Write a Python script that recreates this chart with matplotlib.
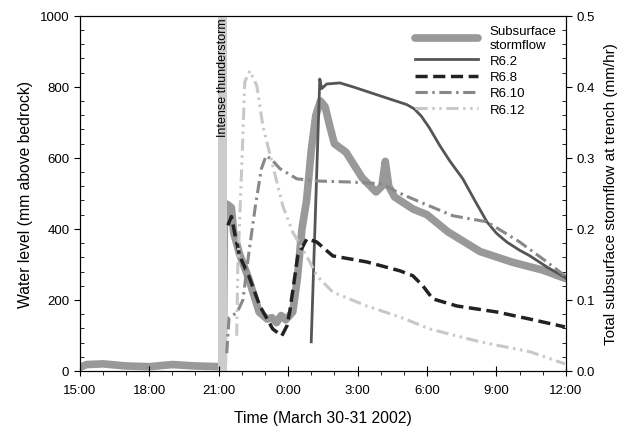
import matplotlib
matplotlib.use("Agg")
import matplotlib.pyplot as plt
from matplotlib.ticker import MultipleLocator, FixedLocator

plt.rcParams['font.family'] = ['Liberation Sans', 'DejaVu Sans']

# hours since 15:00 on March 30
tick_hours = [0, 3, 6, 9, 12, 15, 18, 21]
tick_labels = ["15:00", "18:00", "21:00", "0:00", "3:00", "6:00", "9:00", "12:00"]

# Subsurface stormflow (mm/hr, right axis)
ss_h = [0, 0.3, 1.0, 2.0, 3.0, 4.0, 5.0, 6.1, 6.2, 6.25, 6.35, 6.55, 6.65, 6.9, 7.3,
        7.75, 8.1, 8.3, 8.5, 8.7, 8.9, 9.2, 9.4, 9.6, 9.8, 10.0, 10.2, 10.4, 10.6, 10.8,
        11.0, 11.5, 12.2, 12.8, 13.05, 13.2, 13.35, 13.6, 14.4, 15.0, 15.9, 17.3, 18.7,
        20.0, 21.0]
ss_flow = [0.005, 0.009, 0.01, 0.007, 0.006, 0.009, 0.007, 0.006, 0.009, 0.22, 0.235,
           0.23, 0.195, 0.165, 0.13, 0.083, 0.073, 0.075, 0.068, 0.078, 0.072, 0.083,
           0.13, 0.2, 0.24, 0.31, 0.36, 0.38, 0.372, 0.345, 0.32, 0.308, 0.272, 0.252,
           0.26, 0.295, 0.26, 0.245, 0.228, 0.22, 0.196, 0.168, 0.153, 0.142, 0.13]

# Water levels (mm above bedrock, left axis)
r62_h = [10.0, 10.37, 10.45, 10.67, 11.24, 11.8, 12.96, 14.13, 14.45, 14.75, 15.1,
         15.56, 16.0, 16.55, 17.05, 17.59, 18.0, 18.45, 19.0, 19.45, 20.2, 21.0]
r62_mm = [82, 822, 795, 808, 811, 800, 775, 750, 738, 718, 685, 634, 590, 541, 482,
          420, 388, 363, 340, 324, 292, 262]

r68_h = [6.4, 6.55, 6.75, 6.91, 7.35, 7.78, 8.34, 8.73, 8.95, 9.07, 9.42, 9.81, 10.24,
         10.93, 12.4, 13.83, 14.39, 14.82, 15.25, 16.29, 18.02, 19.45, 20.96]
r68_mm = [410, 435, 370, 324, 259, 183, 118, 99, 127, 166, 324, 372, 363, 324, 307, 282,
          268, 240, 203, 183, 166, 146, 124]

r610_h = [6.35, 6.45, 6.8, 7.05, 7.3, 7.6, 7.85, 8.05, 8.3, 8.64, 9.38, 10.24, 11.67,
          13.09, 13.7, 14.69, 16.12, 17.59, 19.01, 20.18, 20.96]
r610_mm = [50, 150, 165, 200, 330, 470, 570, 606, 595, 570, 541, 535, 532, 527, 504,
           476, 437, 420, 363, 307, 268]

r612_h = [6.78, 6.83, 7.0, 7.13, 7.35, 7.65, 7.91, 8.34, 8.77, 9.2, 9.94, 10.24, 10.93,
          12.4, 13.83, 15.13, 17.29, 19.45, 20.96]
r612_mm = [99, 296, 578, 814, 845, 803, 690, 578, 465, 391, 307, 268, 222, 183, 152,
           118, 82, 54, 20]

storm_start, storm_end = 5.97, 6.35

fig = plt.figure(figsize=(6.28, 4.31), dpi=100)
ax = fig.add_axes([0.127, 0.137, 0.774, 0.824])
ax2 = ax.twinx()

ax.axvspan(storm_start, storm_end, color="#cccccc", lw=0, zorder=0)
ax.text((storm_start + storm_end) / 2 + 0.02, 995, "Intense thunderstorm", rotation=90,
        ha="center", va="top", fontsize=9, color="black")

l_ss, = ax2.plot(ss_h, ss_flow, color="#999999", lw=5.5, solid_joinstyle="round",
                 solid_capstyle="round", label="Subsurface\nstormflow")
l62, = ax.plot(r62_h, r62_mm, color="#555555", lw=2, label="R6.2")
l68, = ax.plot(r68_h, r68_mm, color="#222222", lw=2.5, dashes=(3.5, 1.6),
               label="R6.8")
l610, = ax.plot(r610_h, r610_mm, color="#888888", lw=2.2,
                dashes=(4, 1.5, 0.8, 1.5), label="R6.10")
l612, = ax.plot(r612_h, r612_mm, color="#c8c8c8", lw=2.2,
                dashes=(4, 1.5, 0.8, 1.5, 0.8, 1.5), label="R6.12")

ax.set_zorder(ax2.get_zorder() + 1)
ax.patch.set_visible(False)
ax2.patch.set_visible(True)

ax.set_xlim(0, 21)
ax.set_ylim(0, 1000)
ax2.set_ylim(0, 0.5)

ax.xaxis.set_major_locator(FixedLocator(tick_hours))
ax.set_xticklabels(tick_labels)
ax.xaxis.set_minor_locator(MultipleLocator(1))
ax.yaxis.set_major_locator(MultipleLocator(200))
ax.yaxis.set_minor_locator(MultipleLocator(40))
ax2.yaxis.set_major_locator(MultipleLocator(0.1))
ax2.yaxis.set_minor_locator(MultipleLocator(0.02))
ax2.set_yticklabels([f"{v:.1f}" for v in ax2.get_yticks()])

ax.tick_params(axis="y", which="major", direction="out", length=4, labelsize=9.5)
ax.tick_params(axis="y", which="minor", direction="in", length=3)
ax.tick_params(axis="x", which="major", direction="inout", length=7, labelsize=9.5,
               pad=6)
ax.tick_params(axis="x", which="minor", direction="out", length=3)
ax2.tick_params(axis="y", which="major", direction="out", length=4, labelsize=9.5)
ax2.tick_params(axis="y", which="minor", direction="in", length=3)

for a in (ax, ax2):
    for s in a.spines.values():
        s.set_linewidth(0.8)

ax.set_xlabel("Time (March 30-31 2002)", fontsize=11.3, labelpad=10)
ax.set_ylabel("Water level (mm above bedrock)", fontsize=11.3, labelpad=5)
ax2.set_ylabel("Total subsurface stormflow at trench (mm/hr)", fontsize=11,
               labelpad=7)

ax.legend(handles=[l_ss, l62, l68, l610, l612], loc="upper right",
          bbox_to_anchor=(1.0, 1.0), frameon=False, fontsize=9.5, handlelength=4.8,
          handletextpad=0.9, labelspacing=0.3, borderaxespad=0.3)

fig.savefig("out.png", dpi=100)
